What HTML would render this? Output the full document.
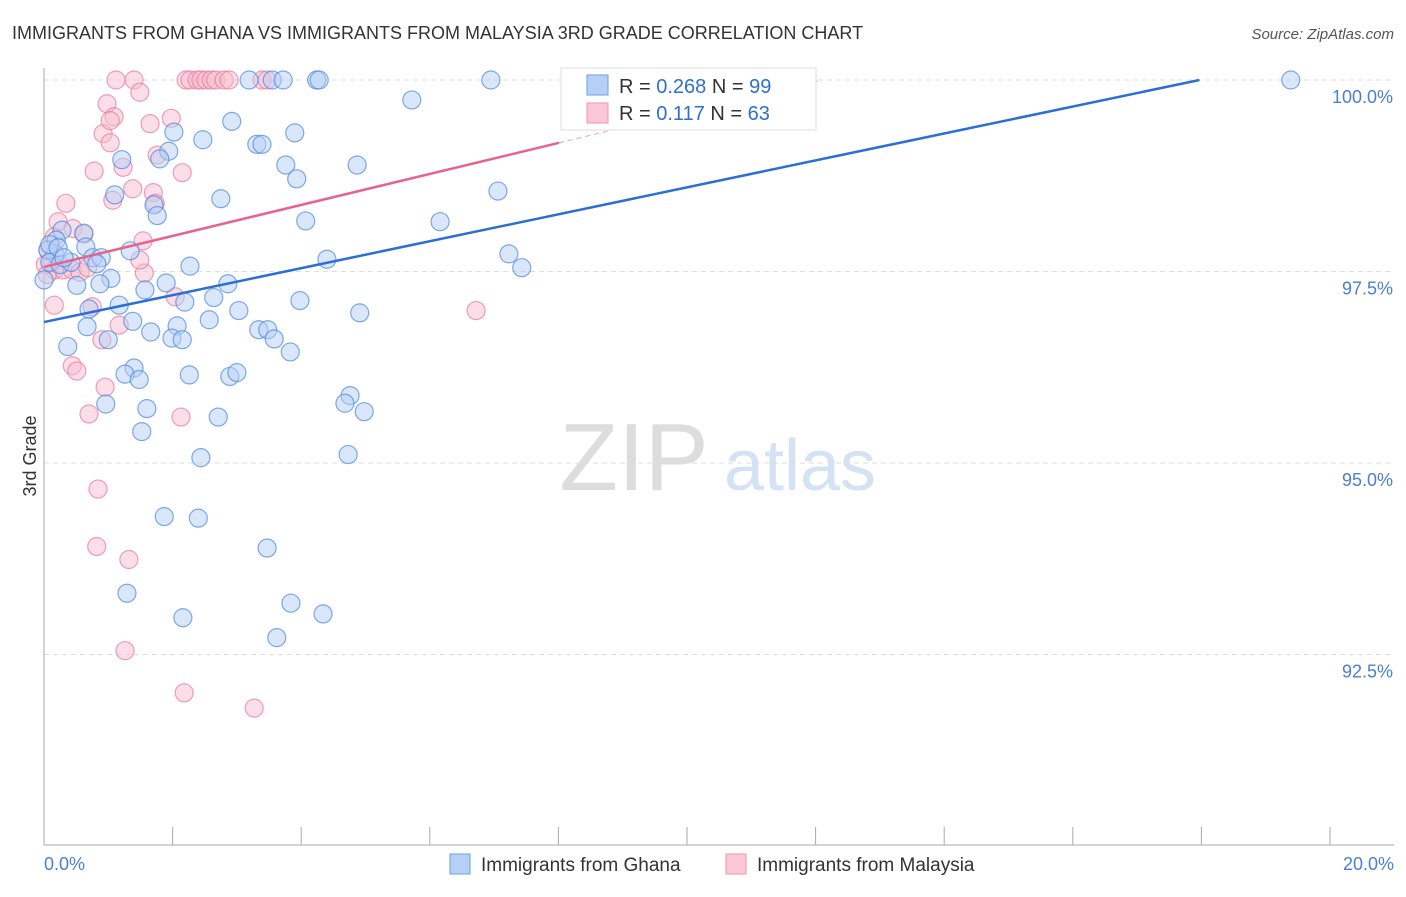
<!DOCTYPE html>
<html><head><meta charset="utf-8"><style>
body{margin:0;background:#fff;font-family:"Liberation Sans",sans-serif}
svg text{font-family:"Liberation Sans",sans-serif}
</style></head><body>
<svg id="c" width="1406" height="892" xmlns="http://www.w3.org/2000/svg">
<text x="12" y="39" font-size="18" fill="#333">IMMIGRANTS FROM GHANA VS IMMIGRANTS FROM MALAYSIA 3RD GRADE CORRELATION CHART</text>
<text x="1394" y="39" font-size="15" fill="#555" text-anchor="end" font-style="italic">Source: ZipAtlas.com</text>
<text x="36" y="456" font-size="18" fill="#333" transform="rotate(-90 36 456)" text-anchor="middle">3rd Grade</text>
<g><text x="634" y="490" font-size="96" fill="#ddd" text-anchor="middle" font-family="Liberation Serif">ZIP</text><text x="800" y="490" font-size="72" fill="#d4e2f5" text-anchor="middle">atlas</text></g>
<g id="grid"></g><g id="axes"></g><g id="pts"></g><g id="lines"></g>
<g>
<rect x="561" y="68" width="255" height="62" fill="#fff" stroke="#ddd"/>
<rect x="587" y="75" width="21" height="20" fill="#b5d0f5" stroke="#6d9ee6"/>
<rect x="587" y="103" width="21" height="20" fill="#f9c7d5" stroke="#ec95b0"/>
<text x="619" y="93" font-size="20" fill="#333">R = <tspan fill="#2f6fd0">0.268</tspan>   N = <tspan fill="#2f6fd0">99</tspan></text>
<text x="619" y="120" font-size="20" fill="#333">R =  <tspan fill="#2f6fd0">0.117</tspan>   N = <tspan fill="#2f6fd0">63</tspan></text>
</g>
<g>
<rect x="450" y="854" width="20" height="20" fill="#b5d0f5" stroke="#6d9ee6"/>
<text x="481" y="871" font-size="19" fill="#333">Immigrants from Ghana</text>
<rect x="726" y="854" width="20" height="20" fill="#f9c7d5" stroke="#ec95b0"/>
<text x="757" y="871" font-size="19" fill="#333">Immigrants from Malaysia</text>
</g>
</svg>
<script>
const ghanaX=[3.19,3.55,3.72,4.24,4.28,6.95,8.24,9.21,19.39,5.72,2.92,2.02,3.90,2.47,3.31,3.39,1.94,1.21,1.80,3.76,4.87,3.93,7.06,1.10,2.75,1.71,1.76,4.07,6.16,0.28,0.62,0.19,0.65,1.34,7.23,4.40,0.76,0.89,2.27,7.43,0.17,0.06,0.09,0.25,0.42,0.82,1.04,0.51,0.87,1.90,2.86,1.57,2.64,2.19,3.98,1.17,3.03,0.70,1.38,2.57,4.91,2.07,0.67,1.66,3.34,3.48,1.00,1.99,2.15,3.58,0.37,3.83,1.40,1.26,1.48,2.26,2.89,3.00,4.76,4.68,0.96,4.98,1.60,2.71,1.52,4.73,2.44,1.87,2.40,3.47,1.29,3.84,2.16,4.34,3.62,0,0.09,0.22,0.31];
const ghanaY=[100,100,100,100,100,100,100,100,100,99.74,99.46,99.32,99.31,99.22,99.16,99.16,99.07,98.96,98.97,98.89,98.89,98.71,98.55,98.50,98.45,98.37,98.23,98.16,98.15,98.04,98.00,97.91,97.82,97.77,97.73,97.66,97.68,97.68,97.57,97.55,97.73,97.78,97.62,97.59,97.62,97.60,97.41,97.32,97.34,97.35,97.34,97.26,97.16,97.10,97.12,97.06,96.99,97.01,96.85,96.87,96.96,96.79,96.78,96.71,96.74,96.74,96.61,96.63,96.61,96.62,96.52,96.45,96.24,96.16,96.09,96.15,96.13,96.18,95.88,95.78,95.77,95.67,95.71,95.60,95.41,95.11,95.07,94.30,94.28,93.89,93.30,93.17,92.98,93.03,92.72,97.39,97.85,97.81,97.68];
const malayX=[1.12,1.40,2.21,2.27,2.38,2.44,2.52,2.60,2.67,2.80,2.88,3.39,3.47,1.49,0.98,1.09,1.65,1.98,0.92,1.03,1.76,1.23,0.78,2.15,1.38,1.70,1.07,1.73,0.34,0.22,0.45,0.16,0.62,1.54,0.06,0.12,0.17,0.30,0.44,0.56,0.68,1.56,2.04,0.75,0.16,1.17,6.72,0.90,0.44,0.51,0.95,0.70,2.13,0.84,0.82,1.32,1.26,2.18,3.27,0.02,0.05,1.03,1.49];
const malayY=[100,100,100,100,100,100,100,100,100,100,100,100,100,99.84,99.69,99.52,99.43,99.50,99.30,99.18,99.02,98.86,98.81,98.79,98.58,98.53,98.43,98.39,98.39,98.15,98.06,97.95,97.99,97.90,97.78,97.61,97.52,97.52,97.52,97.49,97.55,97.48,97.17,97.04,97.06,96.80,96.99,96.61,96.27,96.20,95.99,95.64,95.60,94.66,93.91,93.74,92.55,92.00,91.80,97.59,97.46,99.47,97.65];
const yTicks=[100,97.5,95,92.5];
const yTickLabels=["100.0%","97.5%","95.0%","92.5%"];
const xTicks=[0,2,4,6,8,10,12,14,16,18,20];
const ghanaTrend=[[0,96.84],[17.97,100]];
const malayTrend=[[0,97.56],[8.01,99.18]];
const malayTrendExt=[[8.01,99.18],[12.1,100]];

const X=v=>44+v*64.3, Y=v=>80+(100-v)*76.6;
const NS="http://www.w3.org/2000/svg";
function mk(p,t,a){const e=document.createElementNS(NS,t);for(const k in a)e.setAttribute(k,a[k]);p.appendChild(e);return e;}
const grid=document.getElementById('grid'),axes=document.getElementById('axes'),pts=document.getElementById('pts'),lines=document.getElementById('lines');
yTicks.forEach((t,i)=>{
 const l=mk(grid,'line',{x1:44,x2:1394,y1:Y(t),y2:Y(t),stroke:'#ddd','stroke-dasharray':'5,4'});
 
 
 const tx=mk(axes,'text',{x:1393,y:Y(t)+23,'font-size':18,fill:'#4a7fd4','text-anchor':'end'});
 tx.textContent=yTickLabels[i];
 
 
});
let a=mk(axes,'line',{x1:44,x2:44,y1:68,y2:845,stroke:'#aaa'});


a=mk(axes,'line',{x1:44,x2:1394,y1:845,y2:845,stroke:'#aaa'});


xTicks.forEach(t=>{const l=mk(axes,'line',{x1:X(t),x2:X(t),y1:827,y2:845,stroke:'#aaa'});
 
 });
let tl=mk(axes,'text',{x:44,y:870,'font-size':18,fill:'#4a7fd4'});tl.textContent=xTicks[0].toFixed(1)+'%';


tl=mk(axes,'text',{x:1394,y:870,'font-size':18,fill:'#4a7fd4','text-anchor':'end'});tl.textContent=xTicks[xTicks.length-1].toFixed(1)+'%';


function draw(xs,ys,fill,stroke,name){xs.forEach((x,i)=>{const c=mk(pts,'circle',{cx:X(x),cy:Y(ys[i]),r:9,fill:fill,'fill-opacity':0.5,stroke:stroke,'stroke-opacity':0.7,'stroke-width':1.2});
 
 });}
draw(malayX,malayY,'#f7bdd0','#e8789c','malaysia-point');
draw(ghanaX,ghanaY,'#b5d0f5','#4a86e0','ghana-point');
let ln=mk(lines,'line',{x1:X(ghanaTrend[0][0]),y1:Y(ghanaTrend[0][1]),x2:X(ghanaTrend[1][0]),y2:Y(ghanaTrend[1][1]),stroke:'#2b6fd6','stroke-width':2.5});


ln=mk(lines,'line',{x1:X(malayTrend[0][0]),y1:Y(malayTrend[0][1]),x2:X(malayTrend[1][0]),y2:Y(malayTrend[1][1]),stroke:'#e8628e','stroke-width':2.5});


ln=mk(lines,'line',{x1:X(malayTrendExt[0][0]),y1:Y(malayTrendExt[0][1]),x2:X(malayTrendExt[1][0]),y2:Y(malayTrendExt[1][1]),stroke:'#e8a0b8','stroke-width':1,'stroke-dasharray':'5,4'});


</script>
</body></html>
